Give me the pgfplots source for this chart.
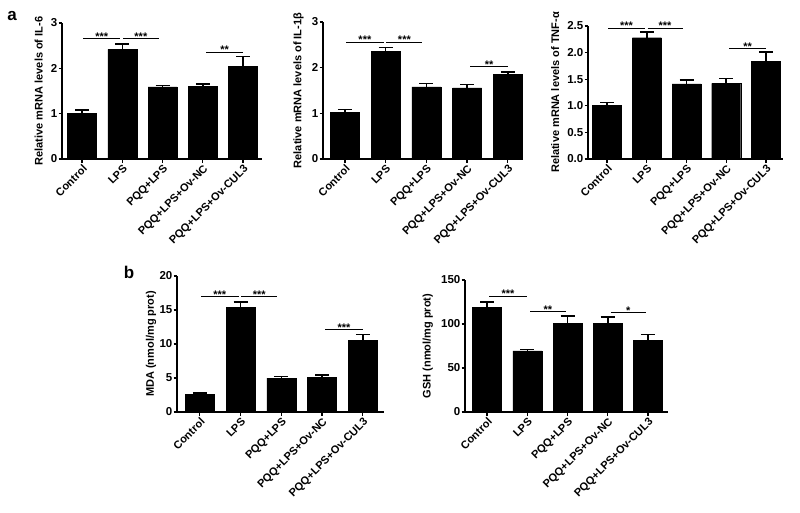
\documentclass[border=0pt]{standalone}
\usepackage{fontspec}
\setmainfont{Liberation Sans}
\usepackage{pgfplots}
\pgfplotsset{compat=1.18}

\tikzset{sigstar/.style={anchor=base, yshift=-1.8pt, inner sep=0pt, font=\fontsize{11}{12}\selectfont\bfseries}}
\pgfplotsset{
  gp/.style={
    scale only axis, anchor=south west,
    axis x line*=bottom, axis y line*=left,
    axis line style={line width=1.5pt},
    tick align=outside, major tick length=3.5pt,
    every tick/.style={black, line width=1.3pt},
    ymin=0,
    xtick={0,...,4},
    xticklabels={Control,LPS,PQQ+LPS,PQQ+LPS+Ov-NC,PQQ+LPS+Ov-CUL3},
    x tick label style={rotate=45, anchor=north east, inner sep=1pt,
      font=\fontsize{11}{12}\selectfont\bfseries},
    y tick label style={inner sep=1pt, font=\fontsize{11.5}{13}\selectfont\bfseries},
    ylabel style={inner sep=1pt, font=\fontsize{11}{13}\selectfont\bfseries},
    ylabel shift=6pt,
    /pgf/number format/assume math mode=true,
    clip=false,
  },
  bars/.style={ybar, bar width=29pt, bar shift=0pt, fill=black, draw=black,
    error bars/.cd, y dir=plus, y explicit,
    error bar style={line width=1.6pt},
    error mark options={rotate=90, line width=1.6pt, mark size=7pt}},
  sig/.style={sharp plot, no marks, black, line width=0.8pt},
}

\begin{document}
\begin{tikzpicture}
\path[use as bounding box] (0,0) rectangle (800pt,-513pt);

\node[font=\fontsize{17}{18}\selectfont\bfseries] at (12pt,-16pt) {a};
\node[font=\fontsize{17}{18}\selectfont\bfseries] at (129pt,-272pt) {b};

% IL-6
\begin{axis}[gp, at={(62pt,-159pt)}, width=200pt, height=136pt,
  xmin=-0.5, xmax=4.47, ymax=3, ytick={0,1,2,3},
  ylabel={Relative mRNA levels of IL-6}]
  \addplot[bars] coordinates {(0,1.00) +- (0,0.08) (1,2.42) +- (0,0.12) (2,1.59) +- (0,0.03) (3,1.61) +- (0,0.05) (4,2.05) +- (0,0.21)};
  \addplot[sig] coordinates {(0.03,2.65)(0.95,2.65)};
  \addplot[sig] coordinates {(1.02,2.65)(1.9,2.65)};
  \addplot[sig] coordinates {(3.08,2.36)(4.0,2.36)};
  \node[sigstar] at (axis cs:0.49,2.65) {***};
  \node[sigstar] at (axis cs:1.46,2.65) {***};
  \node[sigstar] at (axis cs:3.54,2.36) {**};
\end{axis}

% IL-1beta
\begin{axis}[gp, at={(323pt,-159pt)}, width=199pt, height=137pt,
  xmin=-0.54, xmax=4.35, ymax=3, ytick={0,1,2,3},
  ylabel={Relative mRNA levels of IL-1β}]
  \addplot[bars] coordinates {(0,1.02) +- (0,0.06) (1,2.36) +- (0,0.08) (2,1.58) +- (0,0.07) (3,1.56) +- (0,0.07) (4,1.85) +- (0,0.05)};
  \addplot[sig] coordinates {(0.03,2.56)(0.95,2.56)};
  \addplot[sig] coordinates {(1.02,2.56)(1.9,2.56)};
  \addplot[sig] coordinates {(3.08,2.03)(4.0,2.03)};
  \node[sigstar] at (axis cs:0.49,2.56) {***};
  \node[sigstar] at (axis cs:1.46,2.56) {***};
  \node[sigstar] at (axis cs:3.54,2.03) {**};
\end{axis}

% TNF-alpha
\begin{axis}[gp, at={(588pt,-159pt)}, width=195pt, height=133pt,
  xmin=-0.48, xmax=4.43, ymax=2.5, ytick={0,0.5,...,2.5},
  yticklabel style={/pgf/number format/.cd, fixed, fixed zerofill, precision=1},
  ylabel={Relative mRNA levels of TNF-α}]
  \addplot[bars] coordinates {(0,1.01) +- (0,0.05) (1,2.28) +- (0,0.11) (2,1.41) +- (0,0.07) (3,1.42) +- (0,0.09) (4,1.84) +- (0,0.17)};
  \addplot[sig] coordinates {(0.03,2.46)(0.95,2.46)};
  \addplot[sig] coordinates {(1.02,2.46)(1.9,2.46)};
  \addplot[sig] coordinates {(3.08,2.07)(4.0,2.07)};
  \node[sigstar] at (axis cs:0.49,2.46) {***};
  \node[sigstar] at (axis cs:1.46,2.46) {***};
  \node[sigstar] at (axis cs:3.54,2.07) {**};
\end{axis}

% MDA
\begin{axis}[gp, at={(177pt,-412pt)}, width=207pt, height=136pt,
  xmin=-0.56, xmax=4.52, ymax=20, ytick={0,5,...,20},
  ylabel={MDA (nmol/mg prot)}, ylabel shift=1pt]
  \addplot[bars] coordinates {(0,2.55) +- (0,0.25) (1,15.4) +- (0,0.8) (2,5.0) +- (0,0.25) (3,5.1) +- (0,0.3) (4,10.5) +- (0,0.9)};
  \addplot[sig] coordinates {(0.03,17.0)(0.95,17.0)};
  \addplot[sig] coordinates {(1.02,17.0)(1.9,17.0)};
  \addplot[sig] coordinates {(3.08,12.1)(4.0,12.1)};
  \node[sigstar] at (axis cs:0.49,17.0) {***};
  \node[sigstar] at (axis cs:1.46,17.0) {***};
  \node[sigstar] at (axis cs:3.54,12.1) {***};
\end{axis}

% GSH
\begin{axis}[gp, at={(465pt,-412pt)}, width=203pt, height=132pt,
  xmin=-0.55, xmax=4.5, ymax=150, ytick={0,50,100,150},
  ylabel={GSH (nmol/mg prot)}]
  \addplot[bars] coordinates {(0,119) +- (0,6) (1,69.5) +- (0,1.5) (2,100.4) +- (0,8.5) (3,100.8) +- (0,7) (4,81.6) +- (0,6.5)};
  \addplot[sig] coordinates {(0.05,131.6)(0.98,131.6)};
  \addplot[sig] coordinates {(1.07,114)(1.95,114)};
  \addplot[sig] coordinates {(3.07,113)(3.95,113)};
  \node[sigstar] at (axis cs:0.52,131.6) {***};
  \node[sigstar] at (axis cs:1.51,114) {**};
  \node[sigstar] at (axis cs:3.51,113) {*};
\end{axis}
\end{tikzpicture}
\end{document}
